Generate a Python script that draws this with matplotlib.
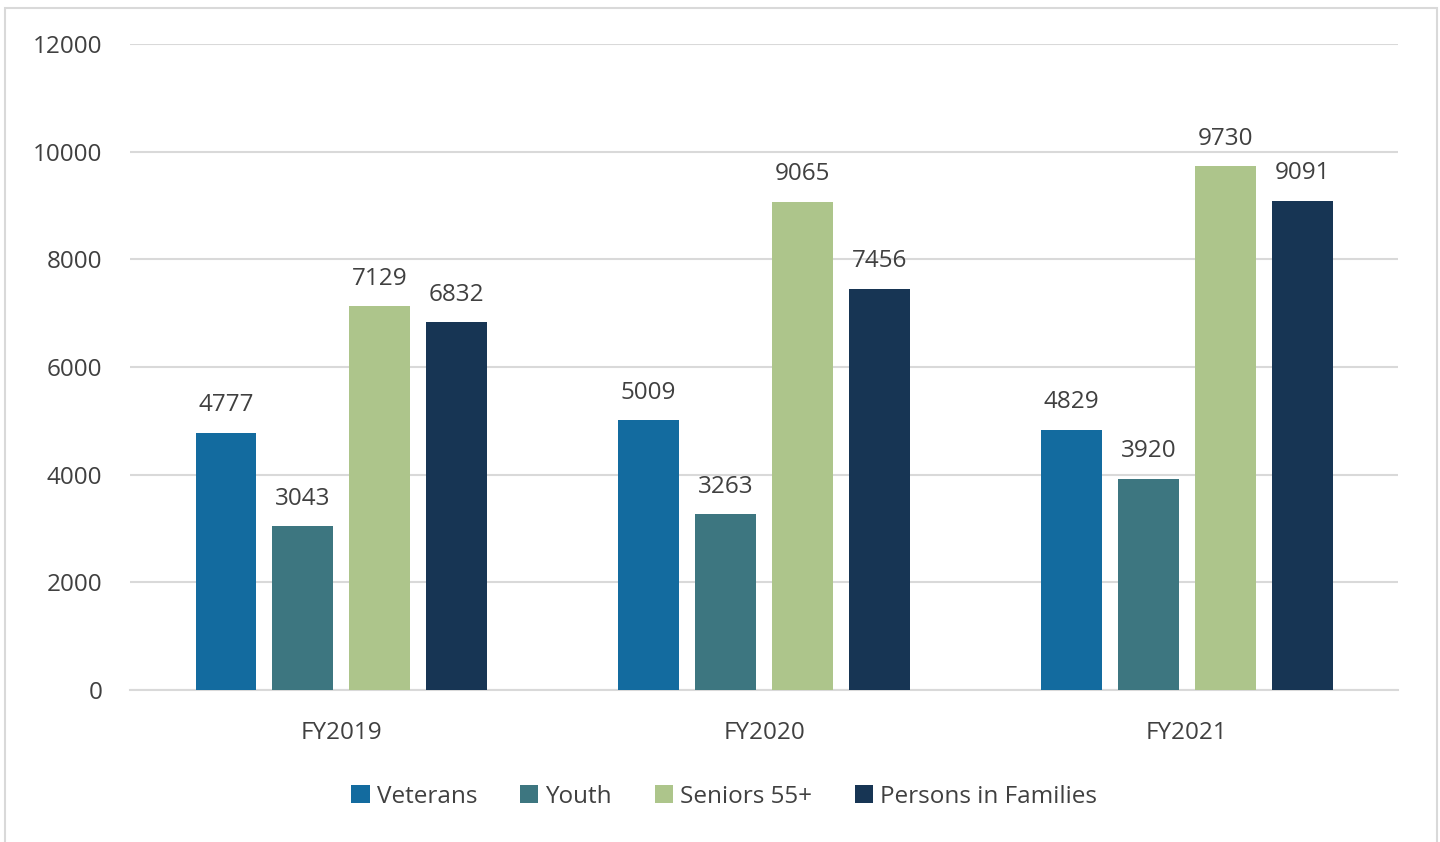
import numpy as np
import matplotlib.pyplot as plt
from matplotlib.patches import Rectangle

# Data
years = ["FY2019", "FY2020", "FY2021"]
veterans = [4777, 5009, 4829]
youth = [3043, 3263, 3920]
seniors = [7129, 9065, 9730]
families = [6832, 7456, 9091]

series_names = ["Veterans", "Youth", "Seniors 55+", "Persons in Families"]
series_values = [veterans, youth, seniors, families]
colors = ["#136B9F", "#3D7680", "#ADC58B", "#173554"]

plt.rcParams['font.family'] = ['Open Sans', 'DejaVu Sans']
text_col = "#404040"
fs = 17.5

fig = plt.figure(figsize=(14.4, 8.42), dpi=100)
ax = fig.add_axes([0.0903, 0.1805, 0.8806, 0.7672])

x = np.arange(len(years))
step = 0.182
width = 0.144
for i, (name, vals, col) in enumerate(zip(series_names, series_values, colors)):
    pos = x + (i - 1.5) * step
    bars = ax.bar(pos, vals, width, color=col, label=name, zorder=3)
    for b, v in zip(bars, vals):
        ax.text(b.get_x() + b.get_width() / 2, v + 290, str(v),
                ha="center", va="bottom", fontsize=fs, color=text_col)

ax.set_xlim(-0.5, 2.5)
ax.set_ylim(0, 12000)
ax.set_yticks(range(0, 12001, 2000))
ax.set_xticks(x)
ax.set_xticklabels(years)
ax.grid(axis="y", color="#D9D9D9", linewidth=1.5, zorder=0)
for s in ["top", "right", "left"]:
    ax.spines[s].set_visible(False)
ax.spines["bottom"].set_color("#D9D9D9")
ax.spines["bottom"].set_linewidth(1.5)
ax.tick_params(axis="both", length=0, labelsize=fs, colors=text_col)
ax.tick_params(axis="y", pad=20)
ax.tick_params(axis="x", pad=22)

leg = fig.legend(loc="center", bbox_to_anchor=(0.503, 0.054), ncol=4,
                 frameon=False, fontsize=fs, handlelength=0.75, handleheight=0.75,
                 handletextpad=0.3, columnspacing=1.75)
for t in leg.get_texts():
    t.set_color(text_col)

# light frame around the chart area
fig.patches.append(Rectangle((0.0035, -0.01), 0.9945, 1.0, transform=fig.transFigure,
                             fill=False, edgecolor="#D9D9D9", linewidth=1.5))

fig.savefig("out.png", dpi=100)
